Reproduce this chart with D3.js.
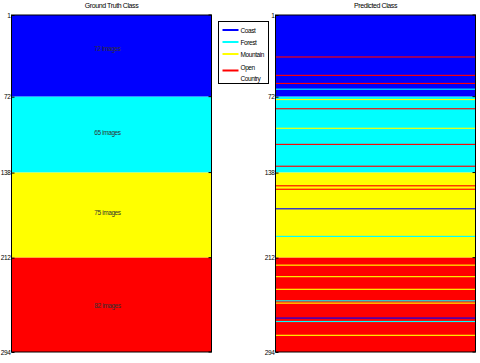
<!DOCTYPE html>
<html>
<head>
<meta charset="utf-8">
<script src="https://cdn.jsdelivr.net/npm/d3@7"></script>
<style>
  body { margin: 0; background: #fff; }
  svg text { font-family: "Liberation Sans", Arial, sans-serif; fill: #000; letter-spacing: -0.4px; }
</style>
</head>
<body>
<svg id="chart" width="480" height="363"></svg>
<script>
// classes and colours (MATLAB style)
const classNames = ["Coast", "Forest", "Mountain", "Open Country"]
const classColors = ["#0000ff", "#00ffff", "#ffff00", "#ff0000"]

// ground truth: first image index of each class, last value is the end
const classStarts = [1, 72, 138, 212, 294]
const imageLabels = ["72 images", "65 images", "75 images", "82 images"]
const labelRows = [30, 103, 173, 254]

// tick labels on the image axis
const yTicks = [1, 72, 138, 212, 294]

// misclassified images: image index and predicted class index
const errorIndex = [37, 53, 60, 65, 74, 82, 99, 113, 132, 149, 152, 169, 193, 218, 228, 239, 249, 251, 264, 267, 279]
const errorClass = [3, 3, 3, 1, 2, 3, 2, 3, 3, 3, 3, 0, 1, 2, 2, 2, 1, 2, 0, 1, 2]

const svg = d3.select("#chart")
const margin = { top: 15, bottom: 11 }
const height = 363 - margin.top - margin.bottom

const y = d3.scaleLinear()
    .domain([classStarts[0], classStarts[classStarts.length - 1]])
    .range([margin.top, margin.top + height])

const bands = classNames.map((name, c) => ({ c, from: classStarts[c], to: classStarts[c + 1] }))
const errors = errorIndex.map((idx, k) => ({ index: idx, cls: errorClass[k] }))

function drawPanel(x0, x1, title) {
    const g = svg.append("g")
    const x = d3.scaleLinear().domain([0, 1]).range([x0, x1])

    g.append("text")
        .attr("x", (x0 + x1) / 2)
        .attr("y", 8)
        .attr("text-anchor", "middle")
        .style("font-size", "7px")
        .text(title)

    // class bands
    g.selectAll(".band")
        .data(bands)
        .enter().append("rect")
        .attr("x", x(0))
        .attr("width", x(1) - x(0))
        .attr("y", d => y(d.from))
        .attr("height", d => y(d.to) - y(d.from))
        .attr("fill", d => classColors[d.c])

    return { g, x }
}

// left panel: ground truth
const left = drawPanel(11.5, 211.5, "Ground Truth Class")
left.g.selectAll(".label")
    .data(imageLabels)
    .enter().append("text")
    .attr("x", (left.x(0) + left.x(1)) / 2 - 4)
    .attr("y", (d, i) => y(labelRows[i]) + 2.5)
    .attr("text-anchor", "middle")
    .style("font-size", "6.5px")
    .style("fill", "#333")
    .text(d => d)

// right panel: predicted, misclassified images drawn over the true class
const right = drawPanel(275.5, 475.5, "Predicted Class")
right.g.selectAll(".row")
    .data(errors)
    .enter().append("rect")
    .attr("x", right.x(0))
    .attr("width", right.x(1) - right.x(0))
    .attr("y", d => y(d.index))
    .attr("height", d => y(d.index + 1) - y(d.index))
    .attr("fill", d => classColors[d.cls])

// frames and axes
;[left, right].forEach(p => {
    const [a, b] = p.x.range()
    const axis = d3.axisLeft(y).tickValues(yTicks).tickSize(-3).tickPadding(1).tickFormat(d3.format("d"))
    const ax = p.g.append("g")
        .attr("transform", `translate(${a},0)`)
        .call(axis)
    ax.select(".domain").remove()
    ax.selectAll("text").style("font-size", "6.5px").style("font-family", "'Liberation Sans', Arial, sans-serif")
    ax.selectAll("line").attr("stroke", "#000")

    // right-side ticks
    p.g.selectAll(".rtick")
        .data(yTicks)
        .enter().append("line")
        .attr("x1", b).attr("x2", b - 3)
        .attr("y1", d => y(d)).attr("y2", d => y(d))
        .attr("stroke", "#000")

    p.g.append("rect")
        .attr("x", a)
        .attr("y", y.range()[0])
        .attr("width", b - a)
        .attr("height", y.range()[1] - y.range()[0])
        .attr("fill", "none")
        .attr("stroke", "#000")
        .attr("stroke-width", 1)
})

// legend
const legend = svg.append("g").attr("transform", "translate(218.5,21.5)")
legend.append("rect")
    .attr("width", 50)
    .attr("height", 62)
    .attr("fill", "#fff")
    .attr("stroke", "#000")

const legendRows = [[8.5], [20.5], [32.5], [45.5, 56.5]]
const legendLines = [8.5, 20.5, 32.5, 49]
classNames.forEach((name, c) => {
    legend.append("line")
        .attr("x1", 4).attr("x2", 20)
        .attr("y1", legendLines[c]).attr("y2", legendLines[c])
        .attr("stroke", classColors[c])
        .attr("stroke-width", 2)
    const words = c === 3 ? ["Open", "Country"] : [name]
    words.forEach((w, k) => {
        legend.append("text")
            .attr("x", 22)
            .attr("y", legendRows[c][k] + 2.5)
            .style("font-size", "6.5px")
            .text(w)
    })
})
</script>
</body>
</html>
